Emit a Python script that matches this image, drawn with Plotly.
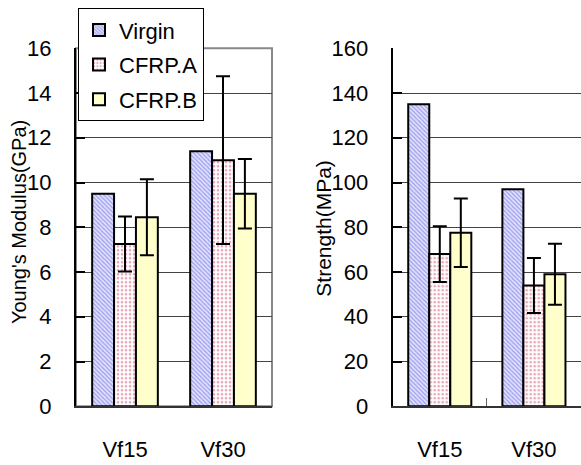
import plotly.graph_objects as go

# Fibre volume fraction groups
categories = ["Vf15", "Vf30"]

# Young's modulus (GPa)
modulus_virgin = [9.5, 11.4]
modulus_a = [7.25, 11.0]
modulus_a_err = [1.23, 3.75]
modulus_b = [8.45, 9.5]
modulus_b_err = [1.7, 1.55]

# Strength (MPa)
strength_virgin = [135, 97]
strength_a = [68, 54]
strength_a_err = [12.5, 12.3]
strength_b = [77.5, 59]
strength_b_err = [15.3, 13.6]

FONT = "Liberation Sans, Arial, sans-serif"
FS = 22
W, H = 581, 465

styles = {
    "Virgin": dict(color="white",
                   pattern=dict(shape="\\", fgcolor="#a0a0f0", bgcolor="#e4e4fb", size=3, solidity=0.45)),
    "CFRP.A": dict(color="white",
                   pattern=dict(shape=".", fgcolor="#e2a6b8", bgcolor="white", size=4, solidity=0.35)),
    "CFRP.B": dict(color="#ffffcc"),
}

def bar(name, y, err, xa, ya, show):
    err_cfg = dict(type="data", array=err, visible=True, color="black",
                   thickness=2, width=7) if err is not None else dict(visible=False)
    st = styles[name]
    marker = dict(color=st["color"], line=dict(color="black", width=2))
    if "pattern" in st:
        marker["pattern"] = dict(fillmode="replace", **st["pattern"])
    return go.Bar(name=name, x=categories, y=y, error_y=err_cfg, marker=marker,
                  xaxis=xa, yaxis=ya, showlegend=show, legendgroup=name)

fig = go.Figure()
fig.add_trace(bar("Virgin", modulus_virgin, None, "x", "y", True))
fig.add_trace(bar("CFRP.A", modulus_a, modulus_a_err, "x", "y", True))
fig.add_trace(bar("CFRP.B", modulus_b, modulus_b_err, "x", "y", True))
fig.add_trace(bar("Virgin", strength_virgin, None, "x2", "y2", False))
fig.add_trace(bar("CFRP.A", strength_a, strength_a_err, "x2", "y2", False))
fig.add_trace(bar("CFRP.B", strength_b, strength_b_err, "x2", "y2", False))

y_dom = [(H - 416.7) / H, (H - 38.3) / H]
left_dom = [76 / W, 272 / W]
right_dom = [392.7 / W, 1.0]

xcommon = dict(type="category", showline=True, linecolor="#333", linewidth=2,
               showgrid=False, ticks="", ticklabelstandoff=22,
               tickfont=dict(family=FONT, size=FS, color="black"), fixedrange=True)
ycommon = dict(showline=True, linecolor="black", linewidth=2, ticks="inside",
               ticklen=9, tickwidth=1.5, tickcolor="black", showgrid=True,
               gridcolor="#444", gridwidth=1, zeroline=False, ticklabelstandoff=18,
               tickfont=dict(family=FONT, size=FS, color="black"), fixedrange=True)

fig.update_layout(
    width=W, height=H,
    margin=dict(l=0, r=0, t=0, b=0),
    paper_bgcolor="white", plot_bgcolor="white",
    barmode="group", bargap=0.33, bargroupgap=0,
    font=dict(family=FONT, size=FS, color="black"),
    xaxis=dict(domain=left_dom, anchor="y", **xcommon),
    yaxis=dict(domain=y_dom, anchor="x", range=[0, 16], dtick=2, **ycommon),
    xaxis2=dict(domain=right_dom, anchor="y2", tickson="boundaries", **{**xcommon,
                "ticks": "inside", "ticklen": 8, "tickcolor": "#666", "tickwidth": 1}),
    yaxis2=dict(domain=y_dom, anchor="x2", range=[0, 160], dtick=20, **ycommon),
    legend=dict(x=78 / W, y=1 + 4 / H, xanchor="left", yanchor="top",
                bgcolor="white", bordercolor="black", borderwidth=1,
                font=dict(family=FONT, size=FS, color="black"),
                traceorder="grouped", tracegroupgap=3),
    shapes=[dict(type="rect", xref="x domain", yref="y domain", x0=0, x1=1, y0=0, y1=1,
                 line=dict(color="#888", width=2), layer="below")],
    annotations=[
        dict(text="Young's Modulus(GPa)", textangle=-90, xref="paper", yref="paper",
             x=19 / W, y=1 - 222 / H, xanchor="center", yanchor="middle", showarrow=False,
             font=dict(family=FONT, size=20, color="black")),
        dict(text="Strength(MPa)", textangle=-90, xref="paper", yref="paper",
             x=324 / W, y=1 - 229 / H, xanchor="center", yanchor="middle", showarrow=False,
             font=dict(family=FONT, size=21, color="black")),
    ],
)

fig.write_html("out.html")
